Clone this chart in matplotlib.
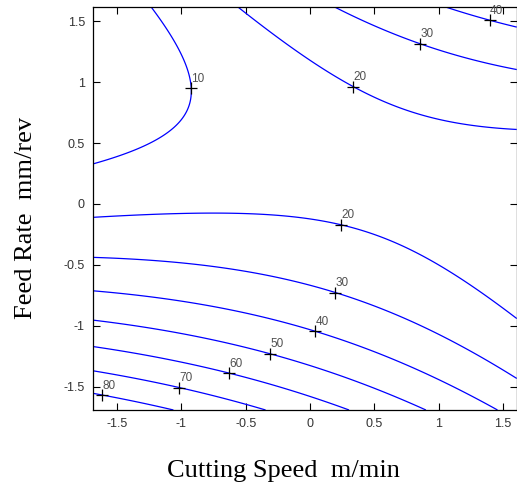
import numpy as np
import matplotlib
matplotlib.use("Agg")
from matplotlib import pyplot as plt

# quadratic response surface (coded units)
# z = b0 + b1*x + b2*y + b11*x^2 + b22*y^2 + b12*x*y
b0 = 18.56
b_lin = [-0.956, -10.50]
b_quad = [-1.065, 9.924]
b_inter = 8.57

niveis = [10, 20, 30, 40, 50, 60, 70, 80]
x_lim = [-1.684, 1.606]
y_lim = [-1.693, 1.616]

# where the clabel '+' marks sit
rotulos_nivel = [10, 20, 30, 40, 20, 30, 40, 50, 60, 70, 80]
rotulos_x = [-0.919, 0.337, 0.855, 1.393, 0.233, 0.194, 0.039, -0.311, -0.627, -1.015, -1.611]
rotulos_y = [0.951, 0.970, 1.315, 1.506, -0.200, -0.734, -1.057, -1.233, -1.386, -1.506, -1.561]

xs = np.linspace(x_lim[0], x_lim[1], 300)
ys = np.linspace(y_lim[0], y_lim[1], 300)
X, Y = np.meshgrid(xs, ys)
Z = (b0 + b_lin[0]*X + b_lin[1]*Y + b_quad[0]*X**2 + b_quad[1]*Y**2
     + b_inter*X*Y)

fig = plt.figure(figsize=(5.17, 4.91), dpi=100)
ax = fig.add_axes([0.1805, 0.165, 0.819, 0.820])

cs = ax.contour(X, Y, Z, levels=niveis, colors='#0000ff', linewidths=0.9)

for nivel, lx, ly in zip(rotulos_nivel, rotulos_x, rotulos_y):
    i = niveis.index(nivel)
    res = cs.find_nearest_contour(lx, ly, indices=[i], pixel=False)
    px, py = res[3], res[4]
    ax.plot(px, py, marker='+', color='black', markersize=8, markeredgewidth=0.9)
    ax.annotate(str(nivel), (px, py), xytext=(0, 2.5), textcoords='offset points',
                fontsize=8.5, color='#505050', family='Liberation Sans',
                ha='left', va='bottom')

ax.set_xlim(x_lim)
ax.set_ylim(y_lim)
ax.set_xticks([-1.5, -1, -0.5, 0, 0.5, 1, 1.5])
ax.set_xticklabels(['-1.5', '-1', '-0.5', '0', '0.5', '1', '1.5'])
ax.set_yticks([-1.5, -1, -0.5, 0, 0.5, 1, 1.5])
ax.set_yticklabels(['-1.5', '-1', '-0.5', '0', '0.5', '1', '1.5'])
ax.tick_params(direction='in', top=True, right=True, length=5, width=0.8,
               labelsize=9, labelcolor='#333333', pad=6)
for lab in ax.get_xticklabels() + ax.get_yticklabels():
    lab.set_family('Liberation Sans')
for s in ax.spines.values():
    s.set_linewidth(0.9)

fig.text(0.548, 0.0285, 'Cutting Speed  m/min', family='Liberation Serif',
         fontsize=19, ha='center', va='baseline')
fig.text(0.062, 0.557, 'Feed Rate  mm/rev', family='Liberation Serif',
         fontsize=19, ha='center', va='baseline', rotation=90,
         rotation_mode='anchor')

plt.savefig("out.png", dpi=100)
